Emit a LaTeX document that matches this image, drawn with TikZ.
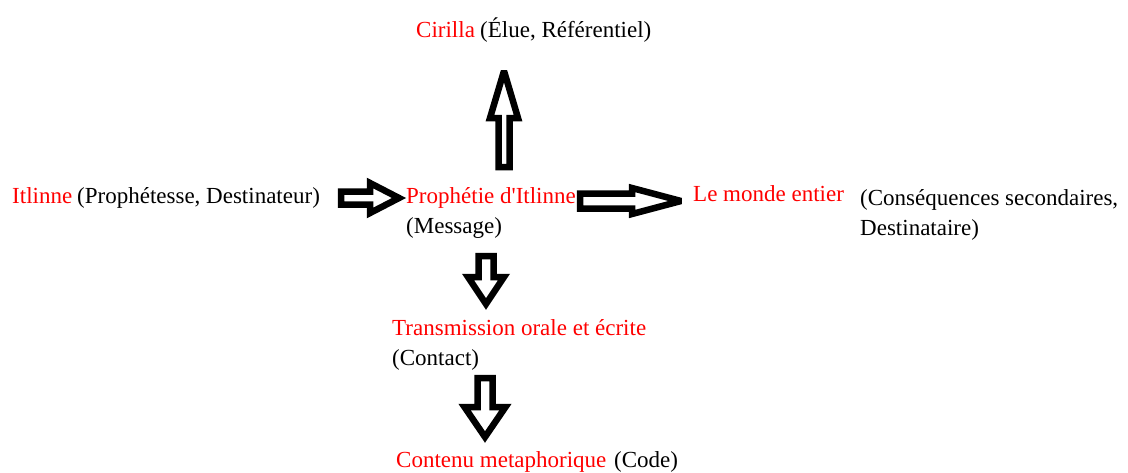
\documentclass[tikz,border=0pt]{standalone}
\usepackage{fontspec}
\setmainfont{Liberation Serif}
\usepackage{tikz}
\usetikzlibrary{calc}

\tikzset{
	role/.style={red,inner sep=0pt,anchor=base west,font=\fontsize{23}{30}\selectfont},
	gloss/.style={black,inner sep=0pt,anchor=base west,font=\fontsize{23}{30}\selectfont},
	hollow/.style={draw=black,fill=white,line width=6.5pt,line join=miter,miter limit=3}
}

% from, to, half shaft width, half head width, head length
\newcommand{\blockarrow}[5]{%
	\draw[hollow] ($(#1)!#3!90:(#2)$)
		-- ($(#2)!#5!(#1)!#3!-90:(#1)$)
		-- ($(#2)!#5!(#1)!#4!-90:(#1)$)
		-- (#2)
		-- ($(#2)!#5!(#1)!#4!90:(#1)$)
		-- ($(#2)!#5!(#1)!#3!90:(#1)$)
		-- ($(#1)!#3!-90:(#2)$) -- cycle;}

\begin{document}
\begin{tikzpicture}[x=1pt,y=-1pt]
			
			\useasboundingbox (0,0) rectangle (1128,472);
			
			\node[role] (C1) at (416,37) {Cirilla};
			\node[gloss] (C2) at (480,37) {(Élue, Référentiel)};
			
			\node[role] (I1) at (12,203) {Itlinne};
			\node[gloss] (I2) at (77,203) {(Prophétesse, Destinateur)};
			
			\node[role] (P1) at (406,203) {Prophétie d\textquotesingle Itlinne};
			\node[gloss] (P2) at (406,233) {(Message)};
			
			\node[role] (M1) at (693,201) {Le monde entier};
			\node[gloss] (M2) at (860,205) {(Conséquences secondaires,};
			\node[gloss] (M3) at (860,235) {Destinataire)};
			
			\node[role] (T1) at (392,335) {Transmission orale et écrite};
			\node[gloss] (T2) at (392,365) {(Contact)};
			
			\node[role] (K1) at (396,467) {Contenu metaphorique};
			\node[gloss] (K2) at (614,467) {(Code)};
			
			\coordinate (PC0) at (504,167);
			\coordinate (PC1) at (504,71);
			\coordinate (IP0) at (341,198);
			\coordinate (IP1) at (399,198);
			\coordinate (PM0) at (580,201);
			\coordinate (PM1) at (681,201);
			\coordinate (PT0) at (486,256);
			\coordinate (PT1) at (486,304);
			\coordinate (TK0) at (485,378);
			\coordinate (TK1) at (485,437);
			
			\blockarrow{PC0}{PC1}{5.5pt}{14pt}{47pt}
			\blockarrow{IP0}{IP1}{6.5pt}{15pt}{29pt}
			\blockarrow{PM0}{PM1}{7.5pt}{13pt}{49pt}
			\blockarrow{PT0}{PT1}{7.5pt}{18pt}{27pt}
			\blockarrow{TK0}{TK1}{7.5pt}{20.5pt}{30pt}
			
		\end{tikzpicture}
\end{document}
